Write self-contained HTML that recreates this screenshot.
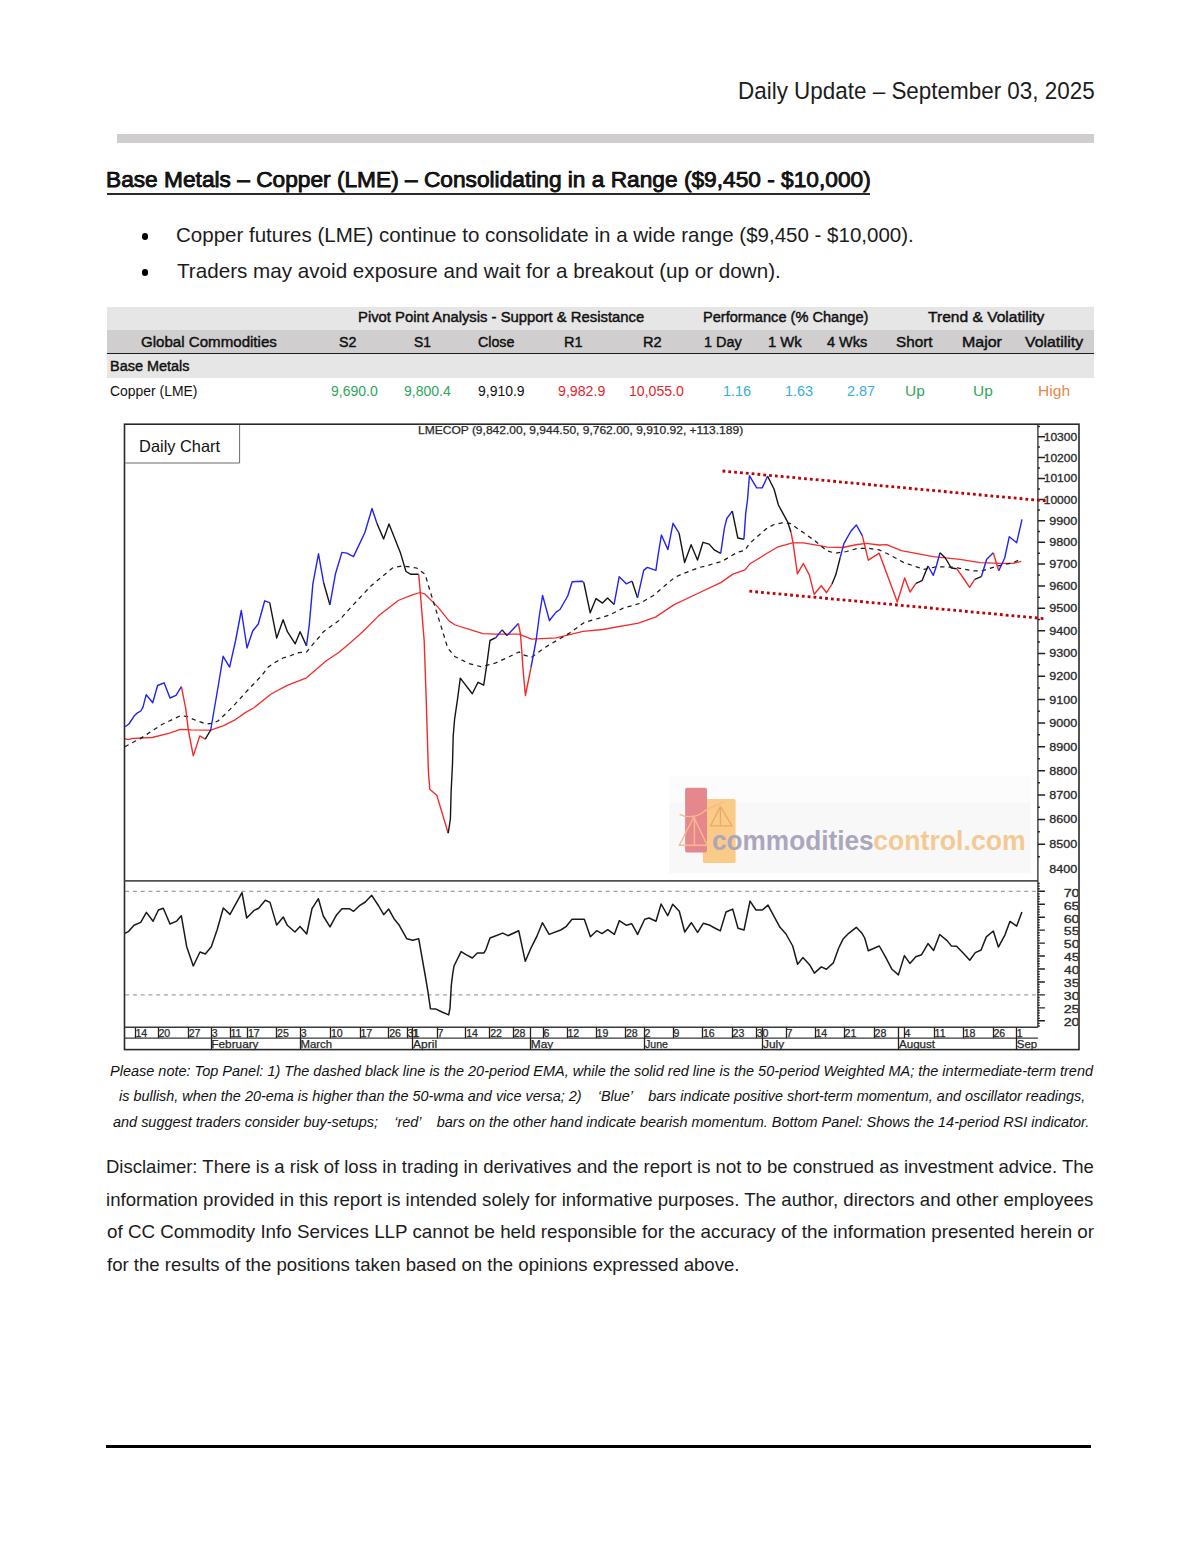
<!DOCTYPE html>
<html lang="en"><head><meta charset="utf-8"><title>Daily Update – Base Metals – Copper (LME)</title>
<style>
html,body{margin:0;padding:0;background:#fff;}
body{width:1200px;height:1553px;overflow:hidden;position:relative;color:#1c1c1c;
 font-family:'Liberation Sans',Arial,sans-serif;}
.t{position:absolute;white-space:pre;line-height:1;transform-origin:0 0;}
header,.bar,h2,ul,table,.chart,.note,.disc,footer{position:absolute;margin:0;padding:0;}
header{left:0;top:0;width:1200px;height:120px;}
.bar{left:117px;top:134.2px;width:977px;height:8.6px;background:#d0cdcf;}
h2{left:0;top:150px;width:1200px;height:50px;font-weight:normal;font-size:inherit;}
h2 .ul{position:absolute;left:106.5px;top:43.2px;width:763.5px;height:1.6px;background:#2a2a2a;}
ul{left:0;top:215px;width:1200px;height:75px;list-style:none;}
ul li .dot{position:absolute;left:141.6px;width:6.8px;height:6.8px;border-radius:50%;background:#000;}
table.perf{left:107px;top:307px;width:987.3px;border-collapse:collapse;table-layout:fixed;}
table.perf td,table.perf th{padding:0;position:relative;font-weight:normal;}
table.perf tr.h1{height:23.1px;background:#e7e6e6;}
table.perf tr.h2{height:23.6px;background:#d0cecf;}
table.perf tr.h2 th{border-bottom:1.3px solid #1e1e1e;}
table.perf tr.grp{height:23.9px;background:#e7e6e6;}
table.perf tr.row{height:24px;background:#fff;}
.chart{left:0;top:0;width:1200px;height:1060px;pointer-events:none;}
.chart svg{position:absolute;left:0;top:0;}
.note{left:0;top:1055px;width:1200px;height:80px;}
.disc{left:0;top:1150px;width:1200px;height:130px;}
footer{left:106px;top:1445.2px;width:985px;height:2.6px;background:#000;}
</style></head>
<body>
<header><span class="t" style="left:737.71px;top:79.01px;font-size:24.5px;transform:scaleX(0.91566);">Daily Update – September 03, 2025</span></header>
<div class="bar"></div>
<h2><span class="t" style="left:105.70px;top:19.31px;font-size:21.2px;transform:scaleX(1.07144);-webkit-text-stroke:0.75px #000;">Base Metals – Copper (LME) – Consolidating in a Range ($9,450 - $10,000)</span><span class="ul"></span></h2>
<ul>
<li><span class="dot" style="top:18.30px"></span><span class="t" style="left:176.48px;top:9.70px;font-size:20.3px;transform:scaleX(1.01147);">Copper futures (LME) continue to consolidate in a wide range ($9,450 - $10,000).</span></li>
<li><span class="dot" style="top:54.40px"></span><span class="t" style="left:177.10px;top:46.00px;font-size:20.3px;transform:scaleX(1.01761);">Traders may avoid exposure and wait for a breakout (up or down).</span></li>
</ul>
<table class="perf"><colgroup><col style="width:204px"><col style="width:74px"><col style="width:74.5px"><col style="width:72.5px"><col style="width:82.5px"><col style="width:76.5px"><col style="width:65px"><col style="width:59px"><col style="width:65px"><col style="width:69px"><col style="width:67px"><col style="width:78.3px"></colgroup>
<thead>
<tr class="h1"><th></th><th colspan="5"><span class="t" style="left:46.83px;top:2.30px;font-size:15.3px;transform:scaleX(0.96999);color:#111;-webkit-text-stroke:0.45px #111;">Pivot Point Analysis - Support &amp; Resistance</span></th><th colspan="3"><span class="t" style="left:11.84px;top:2.30px;font-size:15.3px;transform:scaleX(0.95355);color:#111;-webkit-text-stroke:0.45px #111;">Performance (% Change)</span></th><th colspan="3"><span class="t" style="left:47.99px;top:2.30px;font-size:15.3px;transform:scaleX(1.01854);color:#111;-webkit-text-stroke:0.45px #111;">Trend &amp; Volatility</span></th></tr>
<tr class="h2"><th><span class="t" style="left:33.95px;top:4.20px;font-size:15.3px;transform:scaleX(0.98641);color:#111;-webkit-text-stroke:0.45px #111;">Global Commodities</span></th><th><span class="t" style="left:28.36px;top:4.20px;font-size:15.3px;transform:scaleX(0.92937);color:#111;-webkit-text-stroke:0.45px #111;">S2</span></th><th><span class="t" style="left:28.69px;top:4.20px;font-size:15.3px;transform:scaleX(0.90791);color:#111;-webkit-text-stroke:0.45px #111;">S1</span></th><th><span class="t" style="left:18.10px;top:4.20px;font-size:15.3px;transform:scaleX(0.93011);color:#111;-webkit-text-stroke:0.45px #111;">Close</span></th><th><span class="t" style="left:31.85px;top:4.20px;font-size:15.3px;transform:scaleX(0.94896);color:#111;-webkit-text-stroke:0.45px #111;">R1</span></th><th><span class="t" style="left:28.64px;top:4.20px;font-size:15.3px;transform:scaleX(0.95310);color:#111;-webkit-text-stroke:0.45px #111;">R2</span></th><th><span class="t" style="left:12.92px;top:4.20px;font-size:15.3px;transform:scaleX(0.94623);color:#111;-webkit-text-stroke:0.45px #111;">1 Day</span></th><th><span class="t" style="left:11.90px;top:4.20px;font-size:15.3px;transform:scaleX(0.96947);color:#111;-webkit-text-stroke:0.45px #111;">1 Wk</span></th><th><span class="t" style="left:12.41px;top:4.20px;font-size:15.3px;transform:scaleX(0.94982);color:#111;-webkit-text-stroke:0.45px #111;">4 Wks</span></th><th><span class="t" style="left:16.03px;top:4.20px;font-size:15.3px;transform:scaleX(0.99671);color:#111;-webkit-text-stroke:0.45px #111;">Short</span></th><th><span class="t" style="left:13.03px;top:4.20px;font-size:15.3px;transform:scaleX(1.04384);color:#111;-webkit-text-stroke:0.45px #111;">Major</span></th><th><span class="t" style="left:9.44px;top:4.20px;font-size:15.3px;transform:scaleX(1.03442);color:#111;-webkit-text-stroke:0.45px #111;">Volatility</span></th></tr>
</thead><tbody>
<tr class="grp"><td colspan="12"><span class="t" style="left:2.66px;top:4.12px;font-size:15.3px;transform:scaleX(0.94482);color:#111;-webkit-text-stroke:0.45px #111;">Base Metals</span></td></tr>
<tr class="row"><td><span class="t" style="left:2.81px;top:5.13px;font-size:15.5px;transform:scaleX(0.89787);color:#111;">Copper (LME)</span></td><td><span class="t" style="left:20.08px;top:5.13px;font-size:15.5px;transform:scaleX(0.90376);color:#2ea65c;">9,690.0</span></td><td><span class="t" style="left:19.38px;top:5.13px;font-size:15.5px;transform:scaleX(0.90436);color:#2ea65c;">9,800.4</span></td><td><span class="t" style="left:18.88px;top:5.13px;font-size:15.5px;transform:scaleX(0.90058);color:#111;">9,910.9</span></td><td><span class="t" style="left:25.67px;top:5.13px;font-size:15.5px;transform:scaleX(0.91450);color:#e3262c;">9,982.9</span></td><td><span class="t" style="left:14.45px;top:5.13px;font-size:15.5px;transform:scaleX(0.90960);color:#e3262c;">10,055.0</span></td><td><span class="t" style="left:32.22px;top:5.13px;font-size:15.5px;transform:scaleX(0.93061);color:#38aedc;">1.16</span></td><td><span class="t" style="left:28.94px;top:5.13px;font-size:15.5px;transform:scaleX(0.92708);color:#38aedc;">1.63</span></td><td><span class="t" style="left:31.99px;top:5.13px;font-size:15.5px;transform:scaleX(0.93003);color:#38aedc;">2.87</span></td><td><span class="t" style="left:24.84px;top:5.13px;font-size:15.5px;transform:scaleX(1.00043);color:#2ea65c;">Up</span></td><td><span class="t" style="left:24.15px;top:5.13px;font-size:15.5px;transform:scaleX(1.00043);color:#2ea65c;">Up</span></td><td><span class="t" style="left:22.36px;top:5.13px;font-size:15.5px;transform:scaleX(1.00622);color:#e8874a;">High</span></td></tr>
</tbody>
</table>
<div class="chart"><svg width="1200" height="1060" viewBox="0 0 1200 1060">
<g id="wm">
<rect x="669.2" y="775.8" width="361.4" height="97.5" fill="#f8f8f8"/>
<rect x="669.2" y="775.8" width="361.4" height="27" fill="#fcfcfc"/>
<rect x="702.9" y="798.9" width="32.7" height="64.2" rx="1.5" fill="#f9cb86"/>
<rect x="685.1" y="787.8" width="21.9" height="64.8" rx="2" fill="#e6878e"/>
<g stroke="#f7b98c" stroke-width="1.4" fill="none" stroke-linejoin="round"><path d="M679.5 814.3 C686 817.5 696 818 704 811.5 C711 806.5 718 805 724.5 801.5"/><path d="M693.8 817 L679.3 845.3 L707.2 845.3 Z M694.4 817 V845.3"/></g>
<g stroke="#eaa96a" stroke-width="1.3" fill="none" stroke-linejoin="round"><path d="M720.4 806.5 L710.6 825.8 L732.1 825.8 Z M720.4 806.5 V825.8"/></g>
<text x="711.95" y="850.00" font-size="27" textLength="161.68" lengthAdjust="spacingAndGlyphs" style="font-family:'Liberation Sans',Arial,sans-serif;font-weight:bold;white-space:pre" fill="#aca6bd">commodities</text>
<text x="873.13" y="850.00" font-size="27" textLength="152.61" lengthAdjust="spacingAndGlyphs" style="font-family:'Liberation Sans',Arial,sans-serif;font-weight:bold;white-space:pre" fill="#f5c993">control.com</text>
</g>
<line x1="125.2" y1="891.30" x2="1037.9" y2="891.30" stroke="#8a8a8a" stroke-width="1" stroke-dasharray="4 3.75"/>
<line x1="125.2" y1="994.90" x2="1037.9" y2="994.90" stroke="#8a8a8a" stroke-width="1" stroke-dasharray="4 3.75"/>
<polyline points="124.8,738.6 128.3,739.7 132.7,738.4 152.2,737.5 169.5,733.2 180.3,729.4 191.2,729.9 210.7,730.1 223.7,725.6 234.5,720.2 245.3,712.6 254,707.7 271.1,694 286.7,685.6 306.5,677.8 326.3,660.8 339.1,652.3 350,643 362.7,631.7 378.3,616.1 398.2,600.5 412.3,594.9 420.1,592.5 425.1,594.2 437.8,606.9 449.2,621.1 455.3,625 470.9,629.9 482.9,633.7 495,634.2 519.1,634.2 531.6,639.2 556.1,637.9 583.1,631.4 602.5,629.5 638.6,623.1 655.9,616.9 674.2,604.6 698.7,593 720.7,582.6 732.9,574.1 745.1,569.8 750,563.7 765.4,554.3 777.3,547.2 792.5,542.9 803.3,542.9 819.6,545.6 827.2,547.2 842.3,547.5 857.5,544.5 866.2,543.4 879.2,545 886.7,544.7 901.3,550.7 933.3,556.7 960,559.3 980,562.7 1000,563.3 1013.3,563.3 1021.3,561.3" fill="none" stroke="#f52c2c" stroke-width="1.3" stroke-linejoin="round"/>
<polyline points="124.8,746.7 140.3,738.6 161.9,724.5 180.3,715.8 186.8,716.4 195.5,720.2 206.3,724 212.8,723.4 218.3,720.7 232.3,707.2 250,687.7 256,681.7 262.3,674.7 268,667.3 275.3,662.3 283,658 291,655.5 298.7,652.7 306.7,652 312,645.3 316.7,640 323.5,631.7 339.1,620.4 350,608.3 371.2,585.7 392.5,568 402.4,565.8 416.6,568 425.1,574.3 429.3,588.5 435,606.9 442.1,629.6 447.7,648 454.8,656.5 469,663.6 480.8,666.7 495,663.2 509.2,656.8 519.1,651.9 522.6,654.6 531.6,657.2 545.8,646.9 569,633.4 584.4,622.4 608.9,615.3 623.1,608.2 640,603.4 653.4,595.5 674.2,577.8 681,574.5 690,571 699,567.5 708,565.5 714,563.5 722,561.5 730,556.5 738,552 745,550.5 749,544 758,536 766,529 773,525 782,522.8 790,523.4 803.3,532.6 814.2,540.2 827.2,551 835.8,553.2 846.7,551.5 857.5,548.3 868.3,548.3 879.2,549.9 890.7,555.3 904,562.7 924,569.3 937.3,566.7 954.7,567.3 973.3,571 982.7,570.7 997.3,566 1013.3,562.7 1021.3,558.7" fill="none" stroke="#1a1a1a" stroke-width="1.25" stroke-dasharray="4.3 4.1"/>
<polyline points="125.1,726.7 128.9,724 134.3,715.8 137.5,712.8 140.8,711 143,707.2 146.2,694.7 152.7,702.8 157.6,685.5 164.1,682.8 170,698 176,695.3 181.4,686.6" fill="none" stroke="#2222f2" stroke-width="1.4" stroke-linejoin="round"/>
<polyline points="181.4,686.6 185.7,708.3 188.3,730 193.3,755.9 199.8,735.9 205.3,739.1" fill="none" stroke="#f42a2a" stroke-width="1.4" stroke-linejoin="round"/>
<polyline points="205.3,739.1 210.7,730" fill="none" stroke="#151515" stroke-width="1.4" stroke-linejoin="round"/>
<polyline points="210.7,730 218.3,685.5 223.1,656.3 229.6,667.1 235.6,640.5 241.3,610.5 247,648 252.7,631 258.3,624 264.7,600.8 269.7,602.7" fill="none" stroke="#2222f2" stroke-width="1.4" stroke-linejoin="round"/>
<polyline points="269.7,602.7 276.7,638.1 283.1,619.7 287.4,631.7 295.2,643.8 300.1,631.7 306.5,645.9" fill="none" stroke="#151515" stroke-width="1.4" stroke-linejoin="round"/>
<polyline points="306.5,645.9 309.3,624.6 312.9,583.6 318.5,553.8 323.5,582.2" fill="none" stroke="#2222f2" stroke-width="1.4" stroke-linejoin="round"/>
<polyline points="323.5,582.2 329.9,604.8" fill="none" stroke="#151515" stroke-width="1.4" stroke-linejoin="round"/>
<polyline points="329.9,604.8 335.5,573.7 341.9,552.4 346.9,553.1 353.5,556.6 364.9,532.5 372,508.5 376.9,523.3" fill="none" stroke="#2222f2" stroke-width="1.4" stroke-linejoin="round"/>
<polyline points="376.9,523.3 383.6,538.9 389,524 400.3,552.4 406,571.5 410.9,574.3 418.7,574.3" fill="none" stroke="#151515" stroke-width="1.4" stroke-linejoin="round"/>
<polyline points="418.7,574.3 420.5,595 424.2,641.2 426.3,702.2 428.4,771.6 429.8,789.3 436.9,795.6 448.2,833.2" fill="none" stroke="#f42a2a" stroke-width="1.4" stroke-linejoin="round"/>
<polyline points="448.2,833.2 450.4,819 451.1,792.1 452.5,763.8 453.2,736.1 454.6,719.2 457.5,699.3 460.3,678.1 472.3,693.7 478,682.3 483.7,685.2 486.5,666.7 490,640.5 495.7,637.7" fill="none" stroke="#151515" stroke-width="1.4" stroke-linejoin="round"/>
<polyline points="495.7,637.7 502.1,629.9" fill="none" stroke="#2222f2" stroke-width="1.4" stroke-linejoin="round"/>
<polyline points="502.1,629.9 507,635.6" fill="none" stroke="#151515" stroke-width="1.4" stroke-linejoin="round"/>
<polyline points="507,635.6 518.4,623.5" fill="none" stroke="#2222f2" stroke-width="1.4" stroke-linejoin="round"/>
<polyline points="518.4,623.5 520.5,634.2 523.3,672.4 525.4,695.5 531,667.5" fill="none" stroke="#f42a2a" stroke-width="1.4" stroke-linejoin="round"/>
<polyline points="531,667.5 536.1,640.5 539.3,616 542.6,595.4 549.4,620.5 556.1,612.1 560,609.5 567.7,596 572.2,581.8 581.9,581.2 583.8,582.5" fill="none" stroke="#2222f2" stroke-width="1.4" stroke-linejoin="round"/>
<polyline points="583.8,582.5 590.2,612.8 596,598.6 602.5,603.1 607.6,597.9 614.1,604.4" fill="none" stroke="#151515" stroke-width="1.4" stroke-linejoin="round"/>
<polyline points="614.1,604.4 619.2,576.7 626.3,583.8 632.1,581.2" fill="none" stroke="#2222f2" stroke-width="1.4" stroke-linejoin="round"/>
<polyline points="632.1,581.2 637.5,597.9" fill="none" stroke="#151515" stroke-width="1.4" stroke-linejoin="round"/>
<polyline points="637.5,597.9 643.7,570.4 647.3,567.4 655.9,570.4 658.3,553.9 661.4,535 667.9,549.6 673,523.3 679.1,533.1" fill="none" stroke="#2222f2" stroke-width="1.4" stroke-linejoin="round"/>
<polyline points="679.1,533.1 684.6,562.5 691.1,544.7 697.5,560 703,542.3 709.1,544.1 714.6,550.2 720.7,553.3" fill="none" stroke="#151515" stroke-width="1.4" stroke-linejoin="round"/>
<polyline points="720.7,553.3 724.4,528.2 726.8,518.5 732.3,511.1" fill="none" stroke="#2222f2" stroke-width="1.4" stroke-linejoin="round"/>
<polyline points="732.3,511.1 737.8,538 743.9,539.2" fill="none" stroke="#151515" stroke-width="1.4" stroke-linejoin="round"/>
<polyline points="743.9,539.2 745.7,513.6 747.6,498.9 749.4,475.7 756.7,487.9 762.2,487.9 767.6,476.3" fill="none" stroke="#2222f2" stroke-width="1.4" stroke-linejoin="round"/>
<polyline points="767.6,476.3 774.1,489.3 778.4,505 787.6,521.8 790.9,532" fill="none" stroke="#151515" stroke-width="1.4" stroke-linejoin="round"/>
<polyline points="790.9,532 793,542.3 797.4,573.8 803.3,563.5 809.3,574.8 814.2,594.3 821.2,585.7 826.6,592.7 832,584" fill="none" stroke="#f42a2a" stroke-width="1.4" stroke-linejoin="round"/>
<polyline points="832,584 835.8,574.8 840.2,557.5" fill="none" stroke="#151515" stroke-width="1.4" stroke-linejoin="round"/>
<polyline points="840.2,557.5 844,543.4 851,531 856.4,525 862.4,535.8" fill="none" stroke="#2222f2" stroke-width="1.4" stroke-linejoin="round"/>
<polyline points="862.4,535.8 868.3,560.2 879.2,553.2 897.3,602 904.7,578 910,592 916,583.3" fill="none" stroke="#f42a2a" stroke-width="1.4" stroke-linejoin="round"/>
<polyline points="916,583.3 922,580.7 928,566" fill="none" stroke="#151515" stroke-width="1.4" stroke-linejoin="round"/>
<polyline points="928,566 933.3,575.3 936,567.3 940,552.7" fill="none" stroke="#2222f2" stroke-width="1.4" stroke-linejoin="round"/>
<polyline points="940,552.7 945.3,558 951.3,568 956.7,568.7" fill="none" stroke="#151515" stroke-width="1.4" stroke-linejoin="round"/>
<polyline points="956.7,568.7 963.3,578 969.6,587.3 974.7,579.3" fill="none" stroke="#f42a2a" stroke-width="1.4" stroke-linejoin="round"/>
<polyline points="974.7,579.3 981.3,576.7" fill="none" stroke="#151515" stroke-width="1.4" stroke-linejoin="round"/>
<polyline points="981.3,576.7 986.7,559.3 993.3,552.7" fill="none" stroke="#2222f2" stroke-width="1.4" stroke-linejoin="round"/>
<polyline points="993.3,552.7 998.7,570.7" fill="none" stroke="#f42a2a" stroke-width="1.4" stroke-linejoin="round"/>
<polyline points="998.7,570.7 1004.7,558 1009.3,536.7 1016.7,542.7 1022,519.3" fill="none" stroke="#2222f2" stroke-width="1.4" stroke-linejoin="round"/>
<polyline points="124.7,933.3 128.7,931.3 134,925.3 140.7,922.4 146.4,912.4 153.1,921.3 158.4,910 163.3,908.3 170,924 176.7,921.1 181.3,915.7 186.7,946.7 193.3,966 200,952 205.3,954 211.3,946.7 217.3,929.3 223.3,908 230,914.4 242,892.7 246.7,918 254,910.4 258.7,908.3 265.3,900.3 270,902.4 276.7,925.1 283.3,917.1 287.3,925.3 294.9,932 300,926.4 306.7,934 312,908.7 318.4,898.7 323.3,916 330,926.9 336.7,914.7 342,908.7 349.3,908.7 353.6,911.3 360,905.3 365.3,902 371.7,895.3 378.7,906 383.7,914.7 388.7,909.1 394,918.7 399.3,925.3 406.7,938.7 412.7,940.3 418.7,938.7 422,957.3 425.3,976 428,992 430.4,1008.7 436,1009.1 442,1012 448.7,1014.9 450,1008 451.3,985.3 452.7,974 454,966 461.1,951.6 466,954.7 472.3,958 477.3,952.9 484,952.9 486,949.3 490,938 493.3,936.7 502.7,933.1 508,935.7 518.7,930.7 525.3,961.3 531.3,947.3 536.7,936.7 542.4,922.7 549.1,934.4 560.7,930 566,926.7 572,919.3 584.3,919.3 590.4,936.7 596.7,930.7 602,933.6 607.7,929.7 614.4,934.3 619.3,920.7 626.4,925.3 631.7,923.7 637.6,934.4 644.7,919.3 649.1,918 656,921.3 661.1,904 667.7,915.7 672.7,904.3 679.3,911.3 684.7,932 691.3,922.7 697.6,932.3 703.3,923.3 710,925.3 714.7,928 720.3,930.9 726,912 732.7,909.1 738,928.3 744,930 750,901.1 756,910 762.4,910 768,905.1 776.7,921.3 780,927.3 786,934 792.7,946 797.6,964.3 802.9,957.6 810,965.3 814.4,973.1 821.3,966.9 826.4,969.3 833.3,962.9 838.7,948 843.3,938.7 848.7,933.3 856.3,927.3 862,933.3 864.7,938 868.3,950.7 879.3,946 885.3,956.7 892,969.3 898.4,974.9 904.4,955.6 909.9,963.4 915.8,956.8 921.6,954.7 928,943.6 933.6,950.4 939.7,934.5 947.3,940.9 951.3,945.9 956.6,946.2 963.6,953.5 969.8,960.3 975.3,952.6 981.1,950 986.3,936.9 993.3,931 998.4,947.1 1005,934.8 1009.9,921.4 1016.7,926.1 1021.9,912.1" fill="none" stroke="#1a1a1a" stroke-width="1.5" stroke-linejoin="round"/>
<rect x="124.5" y="424.2" width="954.5" height="625.3999999999999" fill="none" stroke="#2a2a2a" stroke-width="1.6"/>
<line x1="124.5" y1="880.9" x2="1037.9" y2="880.9" stroke="#505050" stroke-width="1.6"/>
<line x1="1037.9" y1="424.2" x2="1037.9" y2="1027.3" stroke="#2a2a2a" stroke-width="1.3"/>
<line x1="124.5" y1="1027.3" x2="1037.9" y2="1027.3" stroke="#3a3a3a" stroke-width="1.4"/>
<line x1="124.5" y1="1038.1" x2="1037.9" y2="1038.1" stroke="#3a3a3a" stroke-width="1.3"/>
<path d="M1037.9 856.77H1039.9 M1037.9 844.25H1045.1000000000001 M1037.9 831.81H1039.9 M1037.9 819.44H1045.1000000000001 M1037.9 807.14H1039.9 M1037.9 794.91H1045.1000000000001 M1037.9 782.76H1039.9 M1037.9 770.67H1045.1000000000001 M1037.9 758.65H1039.9 M1037.9 746.70H1045.1000000000001 M1037.9 734.81H1039.9 M1037.9 723.00H1045.1000000000001 M1037.9 711.24H1039.9 M1037.9 699.55H1045.1000000000001 M1037.9 687.93H1039.9 M1037.9 676.37H1045.1000000000001 M1037.9 664.87H1039.9 M1037.9 653.44H1045.1000000000001 M1037.9 642.06H1039.9 M1037.9 630.75H1045.1000000000001 M1037.9 619.49H1039.9 M1037.9 608.30H1045.1000000000001 M1037.9 597.16H1039.9 M1037.9 586.08H1045.1000000000001 M1037.9 575.06H1039.9 M1037.9 564.10H1045.1000000000001 M1037.9 553.19H1039.9 M1037.9 542.34H1045.1000000000001 M1037.9 531.55H1039.9 M1037.9 520.80H1045.1000000000001 M1037.9 510.12H1039.9 M1037.9 499.48H1045.1000000000001 M1037.9 488.90H1039.9 M1037.9 478.38H1045.1000000000001 M1037.9 467.90H1039.9 M1037.9 457.47H1045.1000000000001 M1037.9 447.10H1039.9 M1037.9 436.78H1045.1000000000001 M1037.9 426.50H1039.9" stroke="#222" stroke-width="1.5" fill="none"/>
<text x="1049.23" y="873.41" font-size="11.2" textLength="28.00" lengthAdjust="spacingAndGlyphs" style="font-family:'Liberation Sans',Arial,sans-serif;stroke:#2a2a2a;stroke-width:0.3px;white-space:pre" fill="#2a2a2a">8400</text>
<text x="1049.23" y="848.30" font-size="11.2" textLength="28.00" lengthAdjust="spacingAndGlyphs" style="font-family:'Liberation Sans',Arial,sans-serif;stroke:#2a2a2a;stroke-width:0.3px;white-space:pre" fill="#2a2a2a">8500</text>
<text x="1049.23" y="823.49" font-size="11.2" textLength="28.00" lengthAdjust="spacingAndGlyphs" style="font-family:'Liberation Sans',Arial,sans-serif;stroke:#2a2a2a;stroke-width:0.3px;white-space:pre" fill="#2a2a2a">8600</text>
<text x="1049.23" y="798.96" font-size="11.2" textLength="28.00" lengthAdjust="spacingAndGlyphs" style="font-family:'Liberation Sans',Arial,sans-serif;stroke:#2a2a2a;stroke-width:0.3px;white-space:pre" fill="#2a2a2a">8700</text>
<text x="1049.23" y="774.72" font-size="11.2" textLength="28.00" lengthAdjust="spacingAndGlyphs" style="font-family:'Liberation Sans',Arial,sans-serif;stroke:#2a2a2a;stroke-width:0.3px;white-space:pre" fill="#2a2a2a">8800</text>
<text x="1049.23" y="750.75" font-size="11.2" textLength="28.00" lengthAdjust="spacingAndGlyphs" style="font-family:'Liberation Sans',Arial,sans-serif;stroke:#2a2a2a;stroke-width:0.3px;white-space:pre" fill="#2a2a2a">8900</text>
<text x="1049.23" y="727.05" font-size="11.2" textLength="28.00" lengthAdjust="spacingAndGlyphs" style="font-family:'Liberation Sans',Arial,sans-serif;stroke:#2a2a2a;stroke-width:0.3px;white-space:pre" fill="#2a2a2a">9000</text>
<text x="1049.23" y="703.60" font-size="11.2" textLength="28.00" lengthAdjust="spacingAndGlyphs" style="font-family:'Liberation Sans',Arial,sans-serif;stroke:#2a2a2a;stroke-width:0.3px;white-space:pre" fill="#2a2a2a">9100</text>
<text x="1049.23" y="680.42" font-size="11.2" textLength="28.00" lengthAdjust="spacingAndGlyphs" style="font-family:'Liberation Sans',Arial,sans-serif;stroke:#2a2a2a;stroke-width:0.3px;white-space:pre" fill="#2a2a2a">9200</text>
<text x="1049.23" y="657.49" font-size="11.2" textLength="28.00" lengthAdjust="spacingAndGlyphs" style="font-family:'Liberation Sans',Arial,sans-serif;stroke:#2a2a2a;stroke-width:0.3px;white-space:pre" fill="#2a2a2a">9300</text>
<text x="1049.23" y="634.80" font-size="11.2" textLength="28.00" lengthAdjust="spacingAndGlyphs" style="font-family:'Liberation Sans',Arial,sans-serif;stroke:#2a2a2a;stroke-width:0.3px;white-space:pre" fill="#2a2a2a">9400</text>
<text x="1049.23" y="612.35" font-size="11.2" textLength="28.00" lengthAdjust="spacingAndGlyphs" style="font-family:'Liberation Sans',Arial,sans-serif;stroke:#2a2a2a;stroke-width:0.3px;white-space:pre" fill="#2a2a2a">9500</text>
<text x="1049.23" y="590.13" font-size="11.2" textLength="28.00" lengthAdjust="spacingAndGlyphs" style="font-family:'Liberation Sans',Arial,sans-serif;stroke:#2a2a2a;stroke-width:0.3px;white-space:pre" fill="#2a2a2a">9600</text>
<text x="1049.23" y="568.15" font-size="11.2" textLength="28.00" lengthAdjust="spacingAndGlyphs" style="font-family:'Liberation Sans',Arial,sans-serif;stroke:#2a2a2a;stroke-width:0.3px;white-space:pre" fill="#2a2a2a">9700</text>
<text x="1049.23" y="546.39" font-size="11.2" textLength="28.00" lengthAdjust="spacingAndGlyphs" style="font-family:'Liberation Sans',Arial,sans-serif;stroke:#2a2a2a;stroke-width:0.3px;white-space:pre" fill="#2a2a2a">9800</text>
<text x="1049.23" y="524.85" font-size="11.2" textLength="28.00" lengthAdjust="spacingAndGlyphs" style="font-family:'Liberation Sans',Arial,sans-serif;stroke:#2a2a2a;stroke-width:0.3px;white-space:pre" fill="#2a2a2a">9900</text>
<text x="1043.70" y="503.53" font-size="11.2" textLength="33.54" lengthAdjust="spacingAndGlyphs" style="font-family:'Liberation Sans',Arial,sans-serif;stroke:#2a2a2a;stroke-width:0.3px;white-space:pre" fill="#2a2a2a">10000</text>
<text x="1043.70" y="482.43" font-size="11.2" textLength="33.54" lengthAdjust="spacingAndGlyphs" style="font-family:'Liberation Sans',Arial,sans-serif;stroke:#2a2a2a;stroke-width:0.3px;white-space:pre" fill="#2a2a2a">10100</text>
<text x="1043.70" y="461.52" font-size="11.2" textLength="33.54" lengthAdjust="spacingAndGlyphs" style="font-family:'Liberation Sans',Arial,sans-serif;stroke:#2a2a2a;stroke-width:0.3px;white-space:pre" fill="#2a2a2a">10200</text>
<text x="1043.70" y="440.83" font-size="11.2" textLength="33.54" lengthAdjust="spacingAndGlyphs" style="font-family:'Liberation Sans',Arial,sans-serif;stroke:#2a2a2a;stroke-width:0.3px;white-space:pre" fill="#2a2a2a">10300</text>
<path d="M1037.9 1025.98H1039.7 M1037.9 1023.39H1039.7 M1037.9 1020.80H1044.9 M1037.9 1018.21H1039.7 M1037.9 1015.62H1039.7 M1037.9 1013.03H1039.7 M1037.9 1010.44H1039.7 M1037.9 1007.85H1044.9 M1037.9 1005.26H1039.7 M1037.9 1002.67H1039.7 M1037.9 1000.08H1039.7 M1037.9 997.49H1039.7 M1037.9 994.90H1044.9 M1037.9 992.31H1039.7 M1037.9 989.72H1039.7 M1037.9 987.13H1039.7 M1037.9 984.54H1039.7 M1037.9 981.95H1044.9 M1037.9 979.36H1039.7 M1037.9 976.77H1039.7 M1037.9 974.18H1039.7 M1037.9 971.59H1039.7 M1037.9 969.00H1044.9 M1037.9 966.41H1039.7 M1037.9 963.82H1039.7 M1037.9 961.23H1039.7 M1037.9 958.64H1039.7 M1037.9 956.05H1044.9 M1037.9 953.46H1039.7 M1037.9 950.87H1039.7 M1037.9 948.28H1039.7 M1037.9 945.69H1039.7 M1037.9 943.10H1044.9 M1037.9 940.51H1039.7 M1037.9 937.92H1039.7 M1037.9 935.33H1039.7 M1037.9 932.74H1039.7 M1037.9 930.15H1044.9 M1037.9 927.56H1039.7 M1037.9 924.97H1039.7 M1037.9 922.38H1039.7 M1037.9 919.79H1039.7 M1037.9 917.20H1044.9 M1037.9 914.61H1039.7 M1037.9 912.02H1039.7 M1037.9 909.43H1039.7 M1037.9 906.84H1039.7 M1037.9 904.25H1044.9 M1037.9 901.66H1039.7 M1037.9 899.07H1039.7 M1037.9 896.48H1039.7 M1037.9 893.89H1039.7 M1037.9 891.30H1044.9 M1037.9 888.71H1039.7 M1037.9 886.12H1039.7 M1037.9 883.53H1039.7" stroke="#222" stroke-width="1.4" fill="none"/>
<clipPath id="rclip"><rect x="1040" y="880" width="38.2" height="150"/></clipPath><g clip-path="url(#rclip)">
<text x="1063.69" y="1026.10" font-size="11.2" textLength="15.84" lengthAdjust="spacingAndGlyphs" style="font-family:'Liberation Sans',Arial,sans-serif;stroke:#2a2a2a;stroke-width:0.3px;white-space:pre" fill="#2a2a2a">20</text>
<text x="1063.68" y="1013.15" font-size="11.2" textLength="15.92" lengthAdjust="spacingAndGlyphs" style="font-family:'Liberation Sans',Arial,sans-serif;stroke:#2a2a2a;stroke-width:0.3px;white-space:pre" fill="#2a2a2a">25</text>
<text x="1063.84" y="1000.20" font-size="11.2" textLength="15.69" lengthAdjust="spacingAndGlyphs" style="font-family:'Liberation Sans',Arial,sans-serif;stroke:#2a2a2a;stroke-width:0.3px;white-space:pre" fill="#2a2a2a">30</text>
<text x="1063.83" y="987.25" font-size="11.2" textLength="15.77" lengthAdjust="spacingAndGlyphs" style="font-family:'Liberation Sans',Arial,sans-serif;stroke:#2a2a2a;stroke-width:0.3px;white-space:pre" fill="#2a2a2a">35</text>
<text x="1064.12" y="974.30" font-size="11.2" textLength="15.39" lengthAdjust="spacingAndGlyphs" style="font-family:'Liberation Sans',Arial,sans-serif;stroke:#2a2a2a;stroke-width:0.3px;white-space:pre" fill="#2a2a2a">40</text>
<text x="1064.12" y="961.35" font-size="11.2" textLength="15.47" lengthAdjust="spacingAndGlyphs" style="font-family:'Liberation Sans',Arial,sans-serif;stroke:#2a2a2a;stroke-width:0.3px;white-space:pre" fill="#2a2a2a">45</text>
<text x="1063.84" y="948.40" font-size="11.2" textLength="15.69" lengthAdjust="spacingAndGlyphs" style="font-family:'Liberation Sans',Arial,sans-serif;stroke:#2a2a2a;stroke-width:0.3px;white-space:pre" fill="#2a2a2a">50</text>
<text x="1063.83" y="935.45" font-size="11.2" textLength="15.77" lengthAdjust="spacingAndGlyphs" style="font-family:'Liberation Sans',Arial,sans-serif;stroke:#2a2a2a;stroke-width:0.3px;white-space:pre" fill="#2a2a2a">55</text>
<text x="1063.69" y="922.50" font-size="11.2" textLength="15.84" lengthAdjust="spacingAndGlyphs" style="font-family:'Liberation Sans',Arial,sans-serif;stroke:#2a2a2a;stroke-width:0.3px;white-space:pre" fill="#2a2a2a">60</text>
<text x="1063.68" y="909.55" font-size="11.2" textLength="15.92" lengthAdjust="spacingAndGlyphs" style="font-family:'Liberation Sans',Arial,sans-serif;stroke:#2a2a2a;stroke-width:0.3px;white-space:pre" fill="#2a2a2a">65</text>
<text x="1063.69" y="896.60" font-size="11.2" textLength="15.84" lengthAdjust="spacingAndGlyphs" style="font-family:'Liberation Sans',Arial,sans-serif;stroke:#2a2a2a;stroke-width:0.3px;white-space:pre" fill="#2a2a2a">70</text>
</g>
<path d="M135.5 1027.3V1038.1 M158.5 1027.3V1038.1 M188.5 1027.3V1038.1 M211.5 1027.3V1049.6 M230.5 1027.3V1038.1 M247.5 1027.3V1038.1 M276.5 1027.3V1038.1 M300.5 1027.3V1049.6 M330.5 1027.3V1038.1 M360.5 1027.3V1038.1 M388.5 1027.3V1038.1 M407.5 1027.3V1038.1 M412.5 1027.3V1049.6 M437.5 1027.3V1038.1 M465.5 1027.3V1038.1 M489.5 1027.3V1038.1 M513.5 1027.3V1038.1 M530.5 1027.3V1049.6 M543.5 1027.3V1038.1 M567.5 1027.3V1038.1 M596.5 1027.3V1038.1 M625.5 1027.3V1038.1 M644.5 1027.3V1049.6 M673.5 1027.3V1038.1 M702.5 1027.3V1038.1 M732.5 1027.3V1038.1 M756.5 1027.3V1038.1 M762.5 1027.3V1049.6 M786.5 1027.3V1038.1 M815.5 1027.3V1038.1 M844.5 1027.3V1038.1 M874.5 1027.3V1038.1 M898.5 1027.3V1049.6 M904.5 1027.3V1038.1 M934.5 1027.3V1038.1 M963.5 1027.3V1038.1 M993.5 1027.3V1038.1 M1016.5 1027.3V1049.6" stroke="#222" stroke-width="1.3" fill="none"/>
<clipPath id="dclip"><rect x="125" y="1027" width="912.5" height="11"/></clipPath><g clip-path="url(#dclip)">
<text x="135.4" y="1037.4" font-size="10.6" style="font-family:'Liberation Sans',Arial,sans-serif;stroke:#2a2a2a;stroke-width:0.25px" fill="#2a2a2a">14</text>
<text x="158.4" y="1037.4" font-size="10.6" style="font-family:'Liberation Sans',Arial,sans-serif;stroke:#2a2a2a;stroke-width:0.25px" fill="#2a2a2a">20</text>
<text x="188.7" y="1037.4" font-size="10.6" style="font-family:'Liberation Sans',Arial,sans-serif;stroke:#2a2a2a;stroke-width:0.25px" fill="#2a2a2a">27</text>
<text x="211.7" y="1037.4" font-size="10.6" style="font-family:'Liberation Sans',Arial,sans-serif;stroke:#2a2a2a;stroke-width:0.25px" fill="#2a2a2a">3</text>
<text x="230.4" y="1037.4" font-size="10.6" style="font-family:'Liberation Sans',Arial,sans-serif;stroke:#2a2a2a;stroke-width:0.25px" fill="#2a2a2a">11</text>
<text x="247.9" y="1037.4" font-size="10.6" style="font-family:'Liberation Sans',Arial,sans-serif;stroke:#2a2a2a;stroke-width:0.25px" fill="#2a2a2a">17</text>
<text x="277.1" y="1037.4" font-size="10.6" style="font-family:'Liberation Sans',Arial,sans-serif;stroke:#2a2a2a;stroke-width:0.25px" fill="#2a2a2a">25</text>
<text x="300.8" y="1037.4" font-size="10.6" style="font-family:'Liberation Sans',Arial,sans-serif;stroke:#2a2a2a;stroke-width:0.25px" fill="#2a2a2a">3</text>
<text x="330.9" y="1037.4" font-size="10.6" style="font-family:'Liberation Sans',Arial,sans-serif;stroke:#2a2a2a;stroke-width:0.25px" fill="#2a2a2a">10</text>
<text x="360.4" y="1037.4" font-size="10.6" style="font-family:'Liberation Sans',Arial,sans-serif;stroke:#2a2a2a;stroke-width:0.25px" fill="#2a2a2a">17</text>
<text x="389.2" y="1037.4" font-size="10.6" style="font-family:'Liberation Sans',Arial,sans-serif;stroke:#2a2a2a;stroke-width:0.25px" fill="#2a2a2a">26</text>
<text x="407.6" y="1037.4" font-size="10.6" style="font-family:'Liberation Sans',Arial,sans-serif;stroke:#2a2a2a;stroke-width:0.25px" fill="#2a2a2a">31</text>
<text x="412.4" y="1037.4" font-size="10.6" style="font-family:'Liberation Sans',Arial,sans-serif;stroke:#2a2a2a;stroke-width:0.25px" fill="#2a2a2a">1</text>
<text x="437.4" y="1037.4" font-size="10.6" style="font-family:'Liberation Sans',Arial,sans-serif;stroke:#2a2a2a;stroke-width:0.25px" fill="#2a2a2a">7</text>
<text x="466.2" y="1037.4" font-size="10.6" style="font-family:'Liberation Sans',Arial,sans-serif;stroke:#2a2a2a;stroke-width:0.25px" fill="#2a2a2a">14</text>
<text x="490.2" y="1037.4" font-size="10.6" style="font-family:'Liberation Sans',Arial,sans-serif;stroke:#2a2a2a;stroke-width:0.25px" fill="#2a2a2a">22</text>
<text x="513.7" y="1037.4" font-size="10.6" style="font-family:'Liberation Sans',Arial,sans-serif;stroke:#2a2a2a;stroke-width:0.25px" fill="#2a2a2a">28</text>
<text x="543.4" y="1037.4" font-size="10.6" style="font-family:'Liberation Sans',Arial,sans-serif;stroke:#2a2a2a;stroke-width:0.25px" fill="#2a2a2a">6</text>
<text x="567.4" y="1037.4" font-size="10.6" style="font-family:'Liberation Sans',Arial,sans-serif;stroke:#2a2a2a;stroke-width:0.25px" fill="#2a2a2a">12</text>
<text x="596.6" y="1037.4" font-size="10.6" style="font-family:'Liberation Sans',Arial,sans-serif;stroke:#2a2a2a;stroke-width:0.25px" fill="#2a2a2a">19</text>
<text x="625.9" y="1037.4" font-size="10.6" style="font-family:'Liberation Sans',Arial,sans-serif;stroke:#2a2a2a;stroke-width:0.25px" fill="#2a2a2a">28</text>
<text x="644.6" y="1037.4" font-size="10.6" style="font-family:'Liberation Sans',Arial,sans-serif;stroke:#2a2a2a;stroke-width:0.25px" fill="#2a2a2a">2</text>
<text x="673.4" y="1037.4" font-size="10.6" style="font-family:'Liberation Sans',Arial,sans-serif;stroke:#2a2a2a;stroke-width:0.25px" fill="#2a2a2a">9</text>
<text x="702.9" y="1037.4" font-size="10.6" style="font-family:'Liberation Sans',Arial,sans-serif;stroke:#2a2a2a;stroke-width:0.25px" fill="#2a2a2a">16</text>
<text x="732.6" y="1037.4" font-size="10.6" style="font-family:'Liberation Sans',Arial,sans-serif;stroke:#2a2a2a;stroke-width:0.25px" fill="#2a2a2a">23</text>
<text x="756.7" y="1037.4" font-size="10.6" style="font-family:'Liberation Sans',Arial,sans-serif;stroke:#2a2a2a;stroke-width:0.25px" fill="#2a2a2a">30</text>
<text x="786.6" y="1037.4" font-size="10.6" style="font-family:'Liberation Sans',Arial,sans-serif;stroke:#2a2a2a;stroke-width:0.25px" fill="#2a2a2a">7</text>
<text x="815.4" y="1037.4" font-size="10.6" style="font-family:'Liberation Sans',Arial,sans-serif;stroke:#2a2a2a;stroke-width:0.25px" fill="#2a2a2a">14</text>
<text x="844.6" y="1037.4" font-size="10.6" style="font-family:'Liberation Sans',Arial,sans-serif;stroke:#2a2a2a;stroke-width:0.25px" fill="#2a2a2a">21</text>
<text x="874.6" y="1037.4" font-size="10.6" style="font-family:'Liberation Sans',Arial,sans-serif;stroke:#2a2a2a;stroke-width:0.25px" fill="#2a2a2a">28</text>
<text x="904.6" y="1037.4" font-size="10.6" style="font-family:'Liberation Sans',Arial,sans-serif;stroke:#2a2a2a;stroke-width:0.25px" fill="#2a2a2a">4</text>
<text x="934.6" y="1037.4" font-size="10.6" style="font-family:'Liberation Sans',Arial,sans-serif;stroke:#2a2a2a;stroke-width:0.25px" fill="#2a2a2a">11</text>
<text x="963.7" y="1037.4" font-size="10.6" style="font-family:'Liberation Sans',Arial,sans-serif;stroke:#2a2a2a;stroke-width:0.25px" fill="#2a2a2a">18</text>
<text x="993.4" y="1037.4" font-size="10.6" style="font-family:'Liberation Sans',Arial,sans-serif;stroke:#2a2a2a;stroke-width:0.25px" fill="#2a2a2a">26</text>
<text x="1016.7" y="1037.4" font-size="10.6" style="font-family:'Liberation Sans',Arial,sans-serif;stroke:#2a2a2a;stroke-width:0.25px" fill="#2a2a2a">1</text>
</g>
<text x="211.36" y="1048.00" font-size="10.8" textLength="47.16" lengthAdjust="spacingAndGlyphs" style="font-family:'Liberation Sans',Arial,sans-serif;stroke:#2a2a2a;stroke-width:0.25px;white-space:pre" fill="#2a2a2a">February</text>
<text x="300.49" y="1048.00" font-size="10.8" textLength="31.59" lengthAdjust="spacingAndGlyphs" style="font-family:'Liberation Sans',Arial,sans-serif;stroke:#2a2a2a;stroke-width:0.25px;white-space:pre" fill="#2a2a2a">March</text>
<text x="413.00" y="1048.00" font-size="10.8" textLength="24.09" lengthAdjust="spacingAndGlyphs" style="font-family:'Liberation Sans',Arial,sans-serif;stroke:#2a2a2a;stroke-width:0.25px;white-space:pre" fill="#2a2a2a">April</text>
<text x="530.85" y="1048.00" font-size="10.8" textLength="22.44" lengthAdjust="spacingAndGlyphs" style="font-family:'Liberation Sans',Arial,sans-serif;stroke:#2a2a2a;stroke-width:0.25px;white-space:pre" fill="#2a2a2a">May</text>
<text x="645.04" y="1048.00" font-size="10.8" textLength="22.97" lengthAdjust="spacingAndGlyphs" style="font-family:'Liberation Sans',Arial,sans-serif;stroke:#2a2a2a;stroke-width:0.25px;white-space:pre" fill="#2a2a2a">June</text>
<text x="763.02" y="1048.00" font-size="10.8" textLength="21.16" lengthAdjust="spacingAndGlyphs" style="font-family:'Liberation Sans',Arial,sans-serif;stroke:#2a2a2a;stroke-width:0.25px;white-space:pre" fill="#2a2a2a">July</text>
<text x="899.00" y="1048.00" font-size="10.8" textLength="36.10" lengthAdjust="spacingAndGlyphs" style="font-family:'Liberation Sans',Arial,sans-serif;stroke:#2a2a2a;stroke-width:0.25px;white-space:pre" fill="#2a2a2a">August</text>
<text x="1016.78" y="1048.00" font-size="10.8" textLength="20.37" lengthAdjust="spacingAndGlyphs" style="font-family:'Liberation Sans',Arial,sans-serif;stroke:#2a2a2a;stroke-width:0.25px;white-space:pre" fill="#2a2a2a">Sep</text>
<text x="418.04" y="433.80" font-size="10.8" textLength="325.10" lengthAdjust="spacingAndGlyphs" style="font-family:'Liberation Sans',Arial,sans-serif;stroke:#2a2a2a;stroke-width:0.25px;white-space:pre" fill="#2a2a2a">LMECOP (9,842.00, 9,944.50, 9,762.00, 9,910.92, +113.189)</text>
<path d="M125.25 463H239.6V424.95" fill="none" stroke="#6a6a6a" stroke-width="1"/>
<text x="139.09" y="451.60" font-size="16.5" textLength="81.01" lengthAdjust="spacingAndGlyphs" style="font-family:'Liberation Sans',Arial,sans-serif;white-space:pre" fill="#111">Daily Chart</text>
<line x1="722.5" y1="471" x2="1046.5" y2="501" stroke="#c00008" stroke-width="2.8" stroke-dasharray="2.8 3.05"/>
<line x1="749.4" y1="591.2" x2="1045" y2="618.7" stroke="#c00008" stroke-width="2.8" stroke-dasharray="2.8 3.05"/>
</svg></div>
<p class="note"><span class="t" style="left:109.87px;top:8.81px;font-size:14.2px;transform:scaleX(1.02171);color:#111;font-style:italic;">Please note: Top Panel: 1) The dashed black line is the 20-period EMA, while the solid red line is the 50-period Weighted MA; the intermediate-term trend</span><span class="t" style="left:118.50px;top:33.81px;font-size:14.2px;transform:scaleX(1.01682);color:#111;font-style:italic;">is bullish, when the 20-ema is higher than the 50-wma and vice versa; 2)    ‘Blue’    bars indicate positive short-term momentum, and oscillator readings,</span><span class="t" style="left:113.42px;top:59.71px;font-size:14.2px;transform:scaleX(1.01868);color:#111;font-style:italic;">and suggest traders consider buy-setups;    ‘red’    bars on the other hand indicate bearish momentum. Bottom Panel: Shows the 14-period RSI indicator.</span></p>
<p class="disc"><span class="t" style="left:106.02px;top:8.01px;font-size:18.6px;transform:scaleX(0.99534);">Disclaimer: There is a risk of loss in trading in derivatives and the report is not to be construed as investment advice. The</span><span class="t" style="left:106.30px;top:40.70px;font-size:18.6px;transform:scaleX(0.99967);">information provided in this report is intended solely for informative purposes. The author, directors and other employees</span><span class="t" style="left:106.75px;top:73.40px;font-size:18.6px;transform:scaleX(1.00990);">of CC Commodity Info Services LLP cannot be held responsible for the accuracy of the information presented herein or</span><span class="t" style="left:107.22px;top:106.20px;font-size:18.6px;transform:scaleX(0.99982);">for the results of the positions taken based on the opinions expressed above.</span></p>
<footer></footer>
</body></html>
